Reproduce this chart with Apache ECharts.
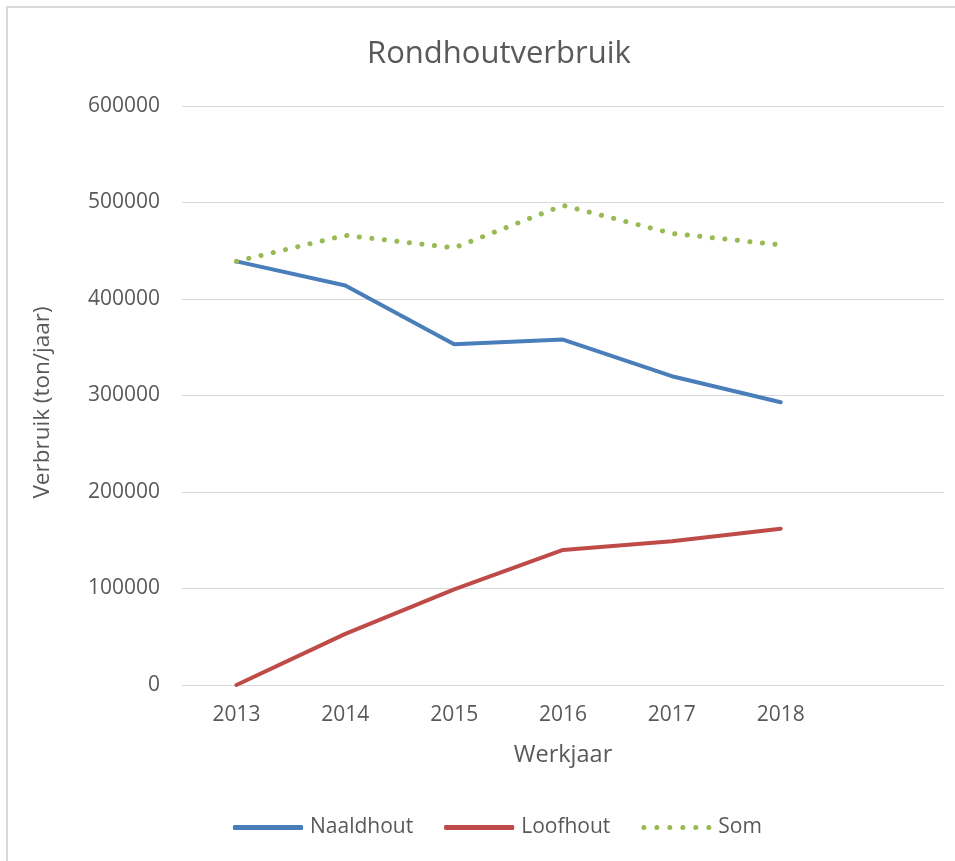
<!DOCTYPE html>
<html>
<head>
<meta charset="utf-8">
<script src="https://cdn.jsdelivr.net/npm/echarts@6/dist/echarts.min.js"></script>
<style>
  html, body { margin: 0; padding: 0; background: #fff; }
  #main { width: 955px; height: 861px; }
</style>
</head>
<body>
<div id="main"></div>
<script>
// years on the x axis, last slot left empty like in the original
var years = ['2013', '2014', '2015', '2016', '2017', '2018', ''];
var naaldhout = [439000, 414000, 353000, 358000, 320000, 293000];
var loofhout = [0, 53000, 99000, 140000, 149000, 162000];
var som = [439000, 466000, 453000, 497000, 468000, 456000];

var font = 'Open Sans';
var grey = '#595959';

// six round dots, used as legend icon for the dotted series
var dots = 'path://';
[2.5, 15.5, 28.5, 41.5, 54.5, 67.5].forEach(function (cx) {
  dots += 'M' + (cx - 2.5) + ',2.5a2.5,2.5 0 1,0 5,0a2.5,2.5 0 1,0 -5,0Z';
});

var chart = echarts.init(document.getElementById('main'));
chart.setOption({
  backgroundColor: '#fff',
  animation: false,
  graphic: [{
    type: 'rect',
    shape: { x: 7, y: 7, width: 960, height: 870 },
    style: { fill: 'none', stroke: '#d9d9d9', lineWidth: 2 },
    silent: true
  }],
  title: {
    text: 'Rondhoutverbruik',
    left: 362,
    top: 34,
    textStyle: { fontFamily: font, fontSize: 31, fontWeight: 'normal', color: grey }
  },
  legend: {
    top: 812,
    left: 228,
    itemWidth: 70,
    itemHeight: 5,
    itemGap: 31,
    textStyle: { fontFamily: font, fontSize: 21, color: grey, padding: [0, 0, 0, 2] },
    data: [
      { name: 'Naaldhout', icon: 'roundRect' },
      { name: 'Loofhout', icon: 'roundRect' },
      { name: 'Som', icon: dots }
    ]
  },
  grid: { left: 182, right: 11, top: 106, bottom: 176, containLabel: false },
  xAxis: {
    type: 'category',
    data: years,
    boundaryGap: true,
    name: 'Werkjaar',
    nameLocation: 'middle',
    nameGap: 58,
    nameTextStyle: { fontFamily: font, fontSize: 23.5, color: grey },
    axisLine: { show: true, lineStyle: { color: '#d9d9d9', width: 1 } },
    axisTick: { show: false },
    axisLabel: { fontFamily: font, fontSize: 21, color: grey, margin: 20 }
  },
  yAxis: {
    type: 'value',
    min: 0,
    max: 600000,
    interval: 100000,
    name: 'Verbruik (ton/jaar)',
    nameLocation: 'middle',
    nameGap: 128,
    nameTextStyle: { fontFamily: font, fontSize: 22.5, color: grey, padding: [0, 14, 0, 0] },
    axisLine: { show: false },
    axisTick: { show: false },
    axisLabel: {
      fontFamily: font, fontSize: 21, color: grey, margin: 22,
      formatter: function (v) { return String(v); }
    },
    splitLine: { lineStyle: { color: '#d9d9d9', width: 1 } }
  },
  series: [
    {
      name: 'Naaldhout',
      type: 'line',
      data: naaldhout,
      symbol: 'none',
      itemStyle: { color: '#4a7ebb' },
      lineStyle: { color: '#4a7ebb', width: 4, cap: 'round' }
    },
    {
      name: 'Loofhout',
      type: 'line',
      data: loofhout,
      symbol: 'none',
      itemStyle: { color: '#be4b48' },
      lineStyle: { color: '#be4b48', width: 4, cap: 'round' }
    },
    {
      name: 'Som',
      type: 'line',
      data: som,
      symbol: 'none',
      itemStyle: { color: '#98b954' },
      lineStyle: { color: '#98b954', width: 5, type: [0.1, 12.5], cap: 'round' }
    }
  ]
});
</script>
</body>
</html>
